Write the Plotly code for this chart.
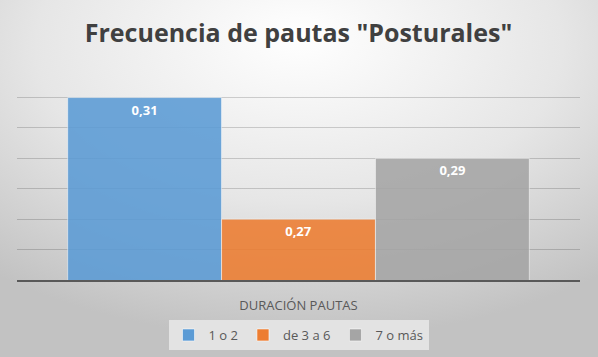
import base64
import plotly.graph_objects as go

# ---- data ----
category = ["DURACIÓN PAUTAS"]
series_names = ["1 o 2", "de 3 a 6", "7 o más"]
series_values = [[0.31], [0.27], [0.29]]
series_colors = ["#5B9BD5", "#ED7D31", "#A5A5A5"]
title_text = 'Frecuencia de pautas "Posturales"'

W, H = 598, 357
ML, MR, MT, MB = 17, 18, 67, 77
FONT = "Open Sans"

fig = go.Figure()
for name, vals, col in zip(series_names, series_values, series_colors):
    fig.add_trace(go.Bar(
        x=category, y=vals, name=name,
        marker=dict(color=col, opacity=0.88,
                    line=dict(color="rgba(255,255,255,0.55)", width=1)),
        texttemplate="%{y:.2f}", textposition="inside",
        insidetextanchor="end",
        textfont=dict(family=FONT, size=13, color="white", weight="bold"),
    ))

# radial gradient background as an svg image
svg = (
    f'<svg xmlns="http://www.w3.org/2000/svg" width="{W}" height="{H}">'
    '<defs><radialGradient id="g" cx="50%" cy="15%" r="80%" fx="50%" fy="10%">'
    '<stop offset="0" stop-color="#ffffff"/>'
    '<stop offset="0.55" stop-color="#e6e6e6"/>'
    '<stop offset="1" stop-color="#c2c2c2"/>'
    '</radialGradient></defs>'
    f'<rect width="{W}" height="{H}" fill="url(#g)"/></svg>'
)
src = "data:image/svg+xml;base64," + base64.b64encode(svg.encode()).decode()
pw, ph = W - ML - MR, H - MT - MB

fig.update_layout(
    width=W, height=H,
    margin=dict(l=ML, r=MR, t=MT, b=MB),
    paper_bgcolor="#dcdcdc", plot_bgcolor="rgba(0,0,0,0)",
    separators=",.",
    barmode="group", bargap=0.18, bargroupgap=0,
    images=[dict(source=src, xref="paper", yref="paper",
                 x=-ML / pw, y=1 + MT / ph, sizex=W / pw, sizey=H / ph,
                 xanchor="left", yanchor="top", sizing="stretch", layer="below")],
    title=dict(text=title_text, x=0.5, xanchor="center", xref="paper",
               y=1 - 33 / H, yanchor="middle", yref="container",
               font=dict(family=FONT, size=25, color="#404040", weight="bold")),
    font=dict(family=FONT, color="#595959"),
    showlegend=True,
    legend=dict(orientation="h", x=0.5, xanchor="center", xref="paper",
                y=1 - 320 / H, yanchor="top", yref="container",
                bgcolor="#e3e3e3", font=dict(size=13, color="#595959"),
                itemwidth=30, tracegroupgap=0),
    xaxis=dict(showline=True, linecolor="#595959", linewidth=2,
               ticks="outside", ticklen=12, tickcolor="rgba(0,0,0,0)",
               tickfont=dict(size=13, color="#595959"), showgrid=False,
               automargin=False),
    yaxis=dict(range=[0.25, 0.32005], dtick=0.01, tick0=0.25,
               showticklabels=False, showgrid=True,
               gridcolor="rgba(0,0,0,0.17)", gridwidth=1, zeroline=False,
               automargin=False),
)

fig.write_html("out.html", config={"displayModeBar": False},
               post_script="document.body.style.margin='0';")
